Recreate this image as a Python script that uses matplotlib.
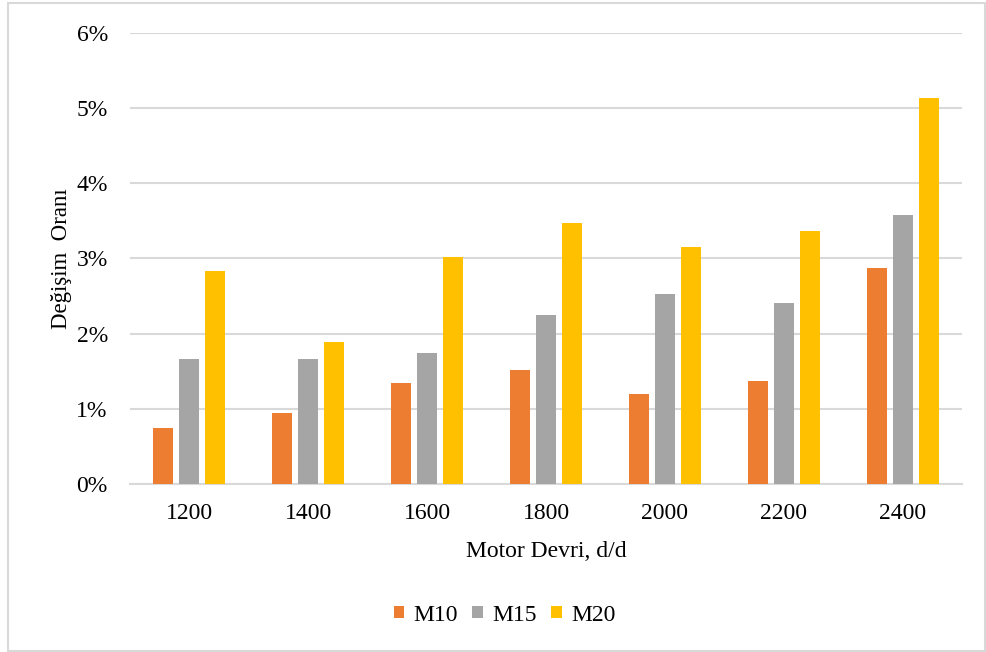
import numpy as np
import matplotlib.pyplot as plt
from matplotlib.patches import Rectangle

# Motor speed groups and change ratios (%)
devir = ['1200', '1400', '1600', '1800', '2000', '2200', '2400']
m10 = [0.74, 0.94, 1.34, 1.52, 1.20, 1.37, 2.87]
m15 = [1.66, 1.66, 1.74, 2.25, 2.53, 2.41, 3.58]
m20 = [2.83, 1.89, 3.02, 3.47, 3.15, 3.36, 5.13]
seriler = ['M10', 'M15', 'M20']
renkler = ['#ED7D31', '#A5A5A5', '#FFC000']

plt.rcParams['font.family'] = ['Liberation Serif', 'DejaVu Serif']

fig = plt.figure(figsize=(9.86, 6.52), dpi=100)
ax = fig.add_axes([130 / 986, 0.2577, 832 / 986, 0.6917])

x = np.arange(len(devir))
w = 0.168
step = 0.219
for i, (vals, ad, renk) in enumerate(zip([m10, m15, m20], seriler, renkler)):
    ax.bar(x + (i - 1) * step, vals, width=w, color=renk, label=ad, zorder=3)

ax.set_xlim(-0.5, len(devir) - 0.5)
ax.set_ylim(0, 6)
ax.set_yticks(range(0, 7))
ax.set_yticklabels([f'{v}%' for v in range(0, 7)])
ax.set_xticks(x)
ax.set_xticklabels(devir)
ax.tick_params(axis='both', length=0, labelsize=17, colors='#000000')
ax.tick_params(axis='y', pad=16)
ax.tick_params(axis='x', pad=14)
ax.grid(axis='y', color='#d9d9d9', linewidth=1.5, zorder=0)
for s in ['top', 'right', 'left']:
    ax.spines[s].set_visible(False)
ax.spines['bottom'].set_color('#d9d9d9')
ax.spines['bottom'].set_linewidth(1.5)

ax.set_xlabel('Motor Devri, d/d', fontsize=17, labelpad=12)
ax.set_ylabel('Değişim  Oranı', fontsize=16.5, labelpad=3)

ax.legend(loc='center', bbox_to_anchor=(0.5117, 0.0567), bbox_transform=fig.transFigure,
          ncol=3, frameon=False, fontsize=17, handlelength=0.45, handleheight=0.45,
          handletextpad=0.4, columnspacing=0.6)

# light frame around the whole chart
fig.patches.append(Rectangle((8 / 986, 1 / 652), 977 / 986, 648 / 652,
                             transform=fig.transFigure, fill=False,
                             edgecolor='#d9d9d9', linewidth=1.5))

fig.savefig('out.png', dpi=100)
